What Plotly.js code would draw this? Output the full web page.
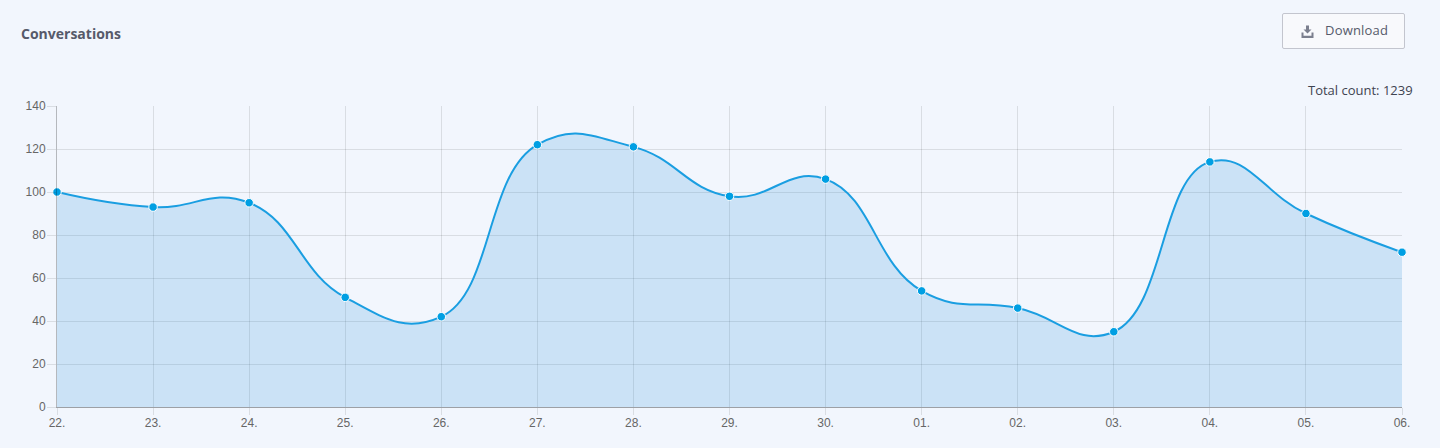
<!DOCTYPE html>
<html><head><meta charset="utf-8">
<script src="https://cdn.plot.ly/plotly-3.0.1.min.js"></script>
<style>
html,body{margin:0;padding:0;background:#f2f6fd;width:1440px;height:448px;overflow:hidden}
#chart{position:absolute;left:0;top:0;width:1440px;height:448px}
#btn{position:absolute;left:1282px;top:13px;width:121px;height:34px;border:1px solid #c3c5ce;border-radius:2px;background:#f8f9fc;
font:500 13px "Open Sans",sans-serif;color:#565a6a;letter-spacing:.2px}
#btn svg{position:absolute;left:18px;top:11px}
#btn span{position:absolute;left:42px;top:7px}
</style></head><body>
<div id="chart"></div>
<div id="btn"><svg width="13" height="13" viewBox="0 0 13 13"><path d="M5 0.5h3v4h2.5L6.5 8.5 2.5 4.5H5z M0.5 7.5h2v3.2h8V7.5h2V13h-12z" fill="#7b7f8e"/></svg><span>Download</span></div>
<script>
const days = ["22.","23.","24.","25.","26.","27.","28.","29.","30.","01.","02.","03.","04.","05.","06."];
const conversations = [100,93,95,51,42,122,121,98,106,54,46,35,114,90,72];
const yTicks = [0,20,40,60,80,100,120,140];
const W=1440,H=448,L=57,R=1402,T=106,B=407;
Plotly.newPlot('chart',[{
  x:days,y:conversations,type:'scatter',mode:'lines+markers',cliponaxis:false,
  line:{shape:'spline',smoothing:1.3,color:'#1a9ee1',width:2},
  marker:{size:8.5,color:'#009fe3',line:{color:'#ffffff',width:1}},
  fill:'tozeroy',fillcolor:'rgba(52,151,219,0.2)',hoverinfo:'x+y'
}],{
  width:W,height:H,autosize:false,showlegend:false,
  paper_bgcolor:'#f2f6fd',plot_bgcolor:'#f2f6fd',
  margin:{l:L,r:W-R,t:T,b:H-B,pad:0},
  font:{family:'"Liberation Sans",Arial,sans-serif',size:12,color:'#666666'},
  title:{text:'<b>Conversations</b>',x:21/W,xanchor:'left',xref:'container',y:1-34.5/H,yanchor:'middle',yref:'container',
    font:{family:'"Open Sans",sans-serif',size:14,color:'#565a6a'}},
  xaxis:{type:'category',range:[0,14],showgrid:true,gridcolor:'rgba(0,0,0,0.1)',gridwidth:1,
    ticks:'outside',ticklen:7,tickcolor:'rgba(0,0,0,0.1)',tickwidth:1,zeroline:false,ticklabelstandoff:-2,
    showline:true,linecolor:'rgba(0,0,0,0.35)',linewidth:1,tickfont:{size:12,color:'#666666'},automargin:false,tickangle:0},
  yaxis:{range:[0,140],tickmode:'array',tickvals:yTicks,ticktext:yTicks.map(String),showgrid:true,gridcolor:'rgba(0,0,0,0.1)',gridwidth:1,
    ticks:'outside',ticklen:9,tickcolor:'rgba(0,0,0,0.1)',tickwidth:1,zeroline:false,ticklabelstandoff:-1,
    showline:true,linecolor:'rgba(0,0,0,0.25)',linewidth:1,tickfont:{size:12,color:'#666666'},automargin:false},
  annotations:[{xref:'paper',yref:'paper',x:(1415-L)/(R-L),y:(B-89.5)/(B-T),xanchor:'right',yanchor:'middle',showarrow:false,
    text:'Total count: 1239',font:{family:'"Open Sans",sans-serif',size:13,color:'#3f4350'}}]
},{displayModeBar:false});
</script>
</body></html>
